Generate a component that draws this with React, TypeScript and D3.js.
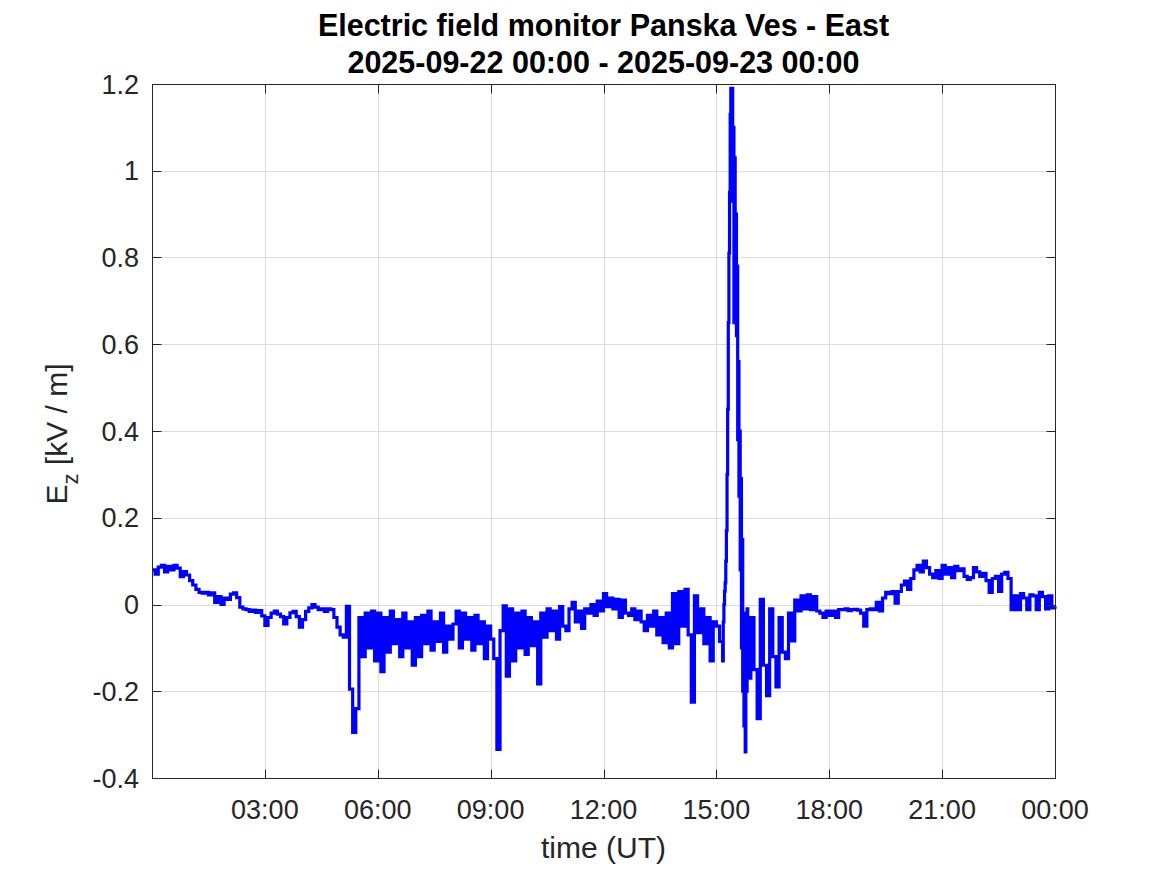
import React from 'react';
import * as d3 from 'd3';

const W = 1167;
const H = 875;
const PLOT = { left: 152, top: 84, right: 1055, bottom: 778 };

const TITLE_LINES = ['Electric field monitor Panska Ves - East', '2025-09-22 00:00 - 2025-09-23 00:00'];
const X_LABEL = 'time (UT)';
const X_TICKS = [3, 6, 9, 12, 15, 18, 21, 24];
const X_TICK_LABELS = ['03:00', '06:00', '09:00', '12:00', '15:00', '18:00', '21:00', '00:00'];
const Y_TICKS = [-0.4, -0.2, 0, 0.2, 0.4, 0.6, 0.8, 1, 1.2];
const Y_TICK_LABELS = ['-0.4', '-0.2', '0', '0.2', '0.4', '0.6', '0.8', '1', '1.2'];

// E_z [kV/m], 5-minute samples from 00:00 to 15:05
const ezMorning = [
  0.080, 0.070, 0.086, 0.090, 0.075, 0.088, 0.080, 0.090, 0.084, 0.064, 0.076, 0.068,
  0.055, 0.045, 0.035, 0.028, 0.026, 0.028, 0.022, 0.027, 0.005, 0.018, 0.000, 0.015,
  0.012, 0.024, 0.027, 0.016, -0.006, -0.010, -0.012, -0.016, -0.013, -0.018, -0.014, -0.026,
  -0.048, -0.030, -0.020, -0.015, -0.022, -0.028, -0.045, -0.030, -0.019, -0.016, -0.028, -0.052,
  -0.035, -0.016, -0.008, 0.000, -0.006, -0.012, -0.010, -0.016, -0.010, -0.012, -0.030, -0.052,
  -0.070, -0.075, -0.004, -0.195, -0.295, -0.240, -0.030, -0.120, -0.020, -0.100, -0.015, -0.130,
  -0.020, -0.155, -0.030, -0.110, -0.015, -0.090, -0.035, -0.120, -0.020, -0.100, -0.040, -0.140,
  -0.030, -0.120, -0.025, -0.090, -0.015, -0.105, -0.040, -0.085, -0.020, -0.110, -0.050, -0.080,
  -0.045, -0.015, -0.100, -0.020, -0.080, -0.030, -0.105, -0.025, -0.090, -0.040, -0.125, -0.050,
  -0.080, -0.125, -0.334, -0.060, -0.003, -0.165, -0.010, -0.130, -0.020, -0.100, -0.015, -0.115,
  -0.030, -0.095, -0.040, -0.183, -0.020, -0.075, -0.010, -0.060, -0.015, -0.080, -0.005, -0.050,
  -0.060, -0.010, 0.005, -0.040, -0.015, -0.055, -0.010, -0.020, 0.000, -0.025, 0.008, -0.015,
  0.025, -0.005, 0.015, -0.010, 0.012, -0.030, 0.010, -0.020, -0.025, -0.010, -0.035, -0.015,
  -0.040, -0.060, -0.025, -0.050, -0.015, -0.070, -0.030, -0.088, -0.020, -0.100, 0.025, -0.090,
  0.030, -0.050, 0.035, -0.070, -0.225, 0.020, -0.065, -0.010, -0.090, -0.030, -0.130, -0.040,
  -0.050, -0.085,
];

// 1-minute samples from 15:10 to 15:49 (the spike)
const ezSpike = [
  -0.130, -0.040, 0.000, 0.030, 0.050, 0.100, 0.170, 0.300, 0.450, 0.650,
  0.810, 0.950, 1.130, 1.190, 1.185, 1.190, 0.930, 1.100, 0.650, 1.030,
  0.800, 0.900, 0.620, 0.780, 0.380, 0.560, 0.250, 0.400, 0.080, 0.290,
  -0.100, 0.150, -0.200, -0.020, -0.280, -0.050, -0.340, -0.030, -0.200, -0.010,
];

// 5-minute samples from 15:50 to 24:00
const ezEvening = [
  -0.170, -0.030,
  -0.150, -0.263, 0.012, -0.140, -0.210, -0.010, -0.120, -0.190, -0.030, -0.110, -0.125, -0.020,
  -0.084, 0.010, -0.015, 0.020, -0.010, 0.022, -0.012, 0.018, -0.015, -0.020, -0.030, -0.015,
  -0.025, -0.015, -0.030, -0.012, -0.012, -0.010, -0.014, -0.012, -0.011, -0.013, -0.020, -0.050,
  -0.012, -0.010, -0.012, 0.005, -0.015, 0.015, 0.028, 0.025, 0.030, 0.003, 0.030, 0.045,
  0.054, 0.035, 0.060, 0.080, 0.090, 0.075, 0.100, 0.085, 0.070, 0.062, 0.078, 0.060,
  0.090, 0.070, 0.085, 0.062, 0.088, 0.078, 0.082, 0.065, 0.058, 0.062, 0.085, 0.075,
  0.065, 0.072, 0.055, 0.028, 0.060, 0.065, 0.030, 0.070, 0.074, 0.060, -0.012, 0.020,
  -0.012, 0.025, 0.015, -0.012, 0.022, 0.020, -0.012, 0.028, 0.018, -0.010, 0.020, -0.008,
  -0.010,
];

const SEGMENTS = [
  { startMin: 0, stepMin: 5, values: ezMorning },
  { startMin: 15 * 60 + 10, stepMin: 1, values: ezSpike },
  { startMin: 15 * 60 + 50, stepMin: 5, values: ezEvening },
];

const FONT = '"Liberation Sans", Arial, Helvetica, sans-serif';
const AXIS_COLOR = '#262626';
const GRID_COLOR = '#dcdcdc';

export default function App() {
  const x = d3.scaleLinear().domain([0, 24]).range([PLOT.left, PLOT.right]);
  const y = d3.scaleLinear().domain([-0.4, 1.2]).range([PLOT.bottom, PLOT.top]);

  const points: [number, number][] = [];
  SEGMENTS.forEach((s) => {
    s.values.forEach((v, i) => points.push([(s.startMin + i * s.stepMin) / 60, v]));
  });

  const line = d3
    .line<[number, number]>()
    .x((d) => x(d[0]))
    .y((d) => y(d[1]))
    .curve(d3.curveStepAfter);

  const crisp = (v: number) => Math.round(v) + 0.5;
  const tickLen = 9;
  const L = crisp(PLOT.left);
  const R = crisp(PLOT.right);
  const T = crisp(PLOT.top);
  const B = crisp(PLOT.bottom);

  return (
    <svg
      width={W}
      height={H}
      style={{ position: 'absolute', left: 0, top: 0, background: '#fff' }}
      fontFamily={FONT}
    >
      <rect x={0} y={0} width={W} height={H} fill="#fff" />
      {/* grid */}
      <g stroke={GRID_COLOR} strokeWidth={1}>
        {X_TICKS.filter((t) => t < 24).map((t) => (
          <line key={'gx' + t} x1={crisp(x(t))} x2={crisp(x(t))} y1={T} y2={B} />
        ))}
        {Y_TICKS.filter((t) => t > -0.4 && t < 1.2).map((t) => (
          <line key={'gy' + t} x1={L} x2={R} y1={crisp(y(t))} y2={crisp(y(t))} />
        ))}
      </g>
      {/* data */}
      <path
        d={line(points) || ''}
        fill="none"
        stroke="#0000ff"
        strokeWidth={3.2}
        strokeLinejoin="miter"
        strokeLinecap="butt"
      />
      {/* box and ticks */}
      <g stroke={AXIS_COLOR} strokeWidth={1} fill="none">
        <rect x={L} y={T} width={R - L} height={B - T} />
        {X_TICKS.map((t) => (
          <g key={'tx' + t}>
            <line x1={crisp(x(t))} x2={crisp(x(t))} y1={B} y2={B - tickLen} />
            <line x1={crisp(x(t))} x2={crisp(x(t))} y1={T} y2={T + tickLen} />
          </g>
        ))}
        {Y_TICKS.map((t) => (
          <g key={'ty' + t}>
            <line x1={L} x2={L + tickLen} y1={crisp(y(t))} y2={crisp(y(t))} />
            <line x1={R} x2={R - tickLen} y1={crisp(y(t))} y2={crisp(y(t))} />
          </g>
        ))}
      </g>
      {/* tick labels */}
      <g fill={AXIS_COLOR} fontSize={27}>
        {X_TICKS.map((t, i) => (
          <text key={'lx' + t} x={x(t)} y={819} textAnchor="middle">
            {X_TICK_LABELS[i]}
          </text>
        ))}
        {Y_TICKS.map((t, i) => (
          <text key={'ly' + t} x={139} y={y(t)} dy="0.36em" textAnchor="end">
            {Y_TICK_LABELS[i]}
          </text>
        ))}
      </g>
      {/* axis labels */}
      <text x={(PLOT.left + PLOT.right) / 2} y={858} textAnchor="middle" fontSize={30} fill={AXIS_COLOR}>
        {X_LABEL}
      </text>
      <text
        transform={`translate(67, ${(PLOT.top + PLOT.bottom) / 2 + 3}) rotate(-90)`}
        textAnchor="middle"
        fontSize={30}
        fill={AXIS_COLOR}
      >
        <tspan>E</tspan>
        <tspan fontSize={22} dy={11}>z</tspan>
        <tspan dy={-11}>{' [kV / m]'}</tspan>
      </text>
      {/* title */}
      <g fontSize={30.5} fontWeight="bold" fill="#000" textAnchor="middle">
        <text x={(PLOT.left + PLOT.right) / 2} y={36}>{TITLE_LINES[0]}</text>
        <text x={(PLOT.left + PLOT.right) / 2} y={73}>{TITLE_LINES[1]}</text>
      </g>
    </svg>
  );
}
